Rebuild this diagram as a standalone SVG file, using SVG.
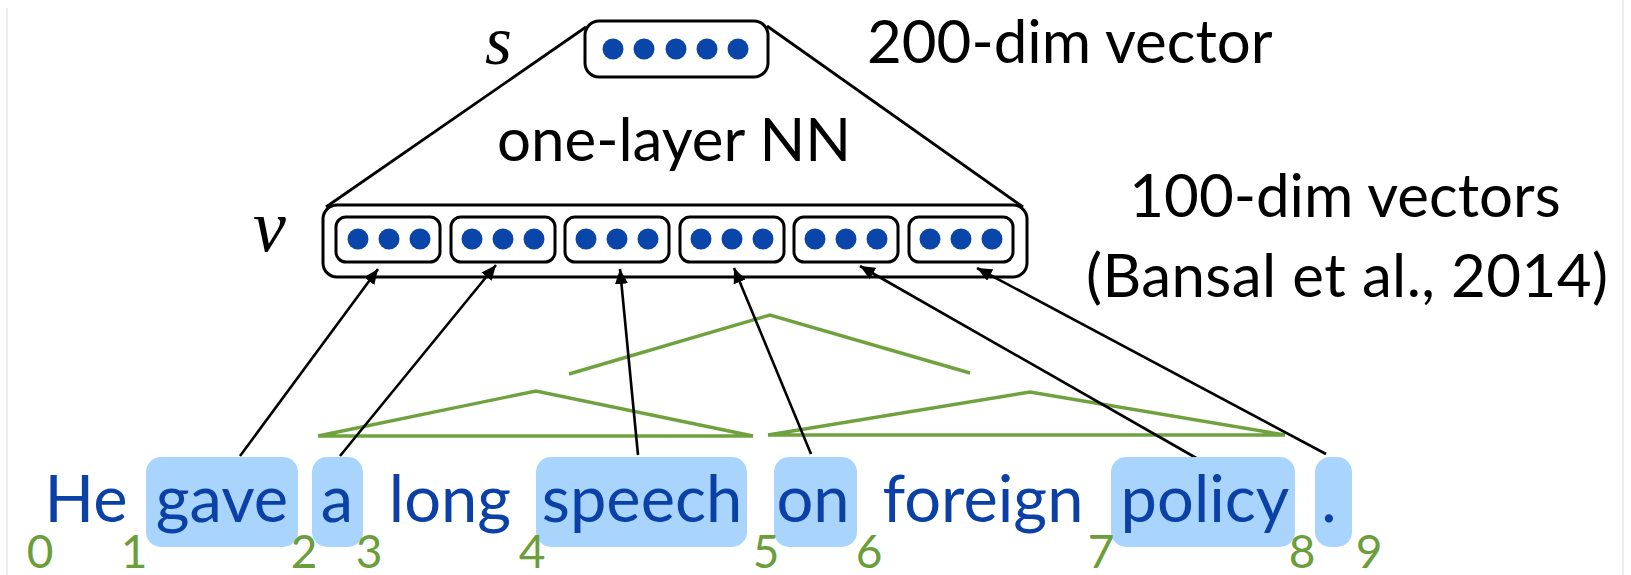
<svg xmlns="http://www.w3.org/2000/svg" width="1631" height="575" viewBox="0 0 1631 575">
<style>
.box{fill:#fff;stroke:#000;stroke-width:3}
.dot{fill:#0a46aa}
.lbl{font-family:Lato,"Liberation Sans",sans-serif;fill:#000;font-size:60px}
.math{font-family:"Liberation Serif",serif;font-style:italic;fill:#000}
.hl{fill:#a9d5fd}
.word{font-family:Lato,"Liberation Sans",sans-serif;font-size:65px;fill:#0b41a6;text-anchor:middle}
.num{font-family:Lato,"Liberation Sans",sans-serif;font-size:46px;fill:#6b9e3a;text-anchor:middle}
.tri{fill:none;stroke:#000;stroke-width:2.8}
.tree{fill:none;stroke:#6fa23f;stroke-width:3.4;stroke-linejoin:miter}
.arr{stroke:#000;stroke-width:2.6;marker-end:url(#ah)}
</style>
<defs>
<marker id="ah" markerUnits="userSpaceOnUse" markerWidth="17" markerHeight="13" refX="15" refY="6.5" orient="auto">
<path d="M0,0 L15,6.5 L0,13 Z" fill="#000"/>
</marker>
<g id="dots3"><circle class="dot" cx="-31" cy="0" r="10.5"/><circle class="dot" cx="0" cy="0" r="10.5"/><circle class="dot" cx="31" cy="0" r="10.5"/></g>
</defs>
<rect width="1631" height="575" fill="#fff"/>
<line x1="7" y1="8" x2="7" y2="575" stroke="#e6e6e6" stroke-width="1.5"/>
<line x1="1623" y1="0" x2="1623" y2="575" stroke="#e6e6e6" stroke-width="1.5"/>

<g id="triangle">
<line class="tri" x1="586" y1="27" x2="326" y2="207"/>
<line class="tri" x1="767" y1="26" x2="1023" y2="207"/>
</g>

<g id="s-node">
<text class="math" x="485" y="64" font-size="69">s</text>
<rect class="box" x="585" y="21" width="183" height="56" rx="14"/>
<circle class="dot" cx="613" cy="49" r="10.5"/>
<circle class="dot" cx="644" cy="49" r="10.5"/>
<circle class="dot" cx="676" cy="49" r="10.5"/>
<circle class="dot" cx="707" cy="49" r="10.5"/>
<circle class="dot" cx="738" cy="49" r="10.5"/>
</g>

<g id="labels">
<text class="lbl" x="867" y="63">200-dim vector</text>
<text class="lbl" x="674" y="161" text-anchor="middle">one-layer NN</text>
<text class="lbl" x="1345" y="217" text-anchor="middle">100-dim vectors</text>
<text class="lbl" x="1086" y="297" textLength="522">(Bansal et al., 2014)</text>
</g>

<g id="v-node">
<text class="math" x="253" y="251" font-size="74">v</text>
<rect class="box" x="323" y="205" width="704" height="72" rx="14"/>
<rect class="box" x="336" y="217" width="104" height="45" rx="10"/>
<rect class="box" x="451" y="217" width="104" height="45" rx="10"/>
<rect class="box" x="565" y="217" width="104" height="45" rx="10"/>
<rect class="box" x="680" y="217" width="104" height="45" rx="10"/>
<rect class="box" x="794" y="217" width="104" height="45" rx="10"/>
<rect class="box" x="909" y="217" width="104" height="45" rx="10"/>
<use href="#dots3" x="389" y="239"/>
<use href="#dots3" x="503" y="239"/>
<use href="#dots3" x="617" y="239"/>
<use href="#dots3" x="732" y="239"/>
<use href="#dots3" x="846" y="239"/>
<use href="#dots3" x="961" y="239"/>
</g>

<g id="tree">
<polyline class="tree" points="318,436 536,391 753,436 318,436"/>
<polyline class="tree" points="768,435 1030,392 1285,435 768,435"/>
<polyline class="tree" points="569,374 770,315 970,373"/>
</g>

<g id="connectors">
<line class="arr" x1="240" y1="456" x2="378" y2="269"/>
<line class="arr" x1="340" y1="456" x2="496" y2="265"/>
<line class="arr" x1="638" y1="455" x2="620" y2="269"/>
<line class="arr" x1="811" y1="454" x2="734" y2="268"/>
<line class="arr" x1="1198" y1="459" x2="860" y2="266"/>
<line class="arr" x1="1326" y1="454" x2="977" y2="268"/>
</g>

<g id="sentence">
<rect class="hl" x="146" y="457" width="152" height="90" rx="15"/>
<rect class="hl" x="312" y="457" width="51" height="90" rx="15"/>
<rect class="hl" x="536" y="457" width="211" height="90" rx="15"/>
<rect class="hl" x="774" y="457" width="83" height="90" rx="15"/>
<rect class="hl" x="1111" y="457" width="184" height="90" rx="15"/>
<rect class="hl" x="1315" y="457" width="37" height="90" rx="15"/>
<text class="word" x="86" y="522">He</text>
<text class="word" x="222" y="522">gave</text>
<text class="word" x="337" y="522">a</text>
<text class="word" x="450" y="522">long</text>
<text class="word" x="642" y="522">speech</text>
<text class="word" x="813" y="522">on</text>
<text class="word" x="983" y="522">foreign</text>
<text class="word" x="1205" y="522">policy</text>
<text class="word" x="1329" y="522">.</text>
</g>

<g id="indices">
<text class="num" x="40" y="568">0</text>
<text class="num" x="134" y="568">1</text>
<text class="num" x="304" y="568">2</text>
<text class="num" x="369" y="568">3</text>
<text class="num" x="532" y="568">4</text>
<text class="num" x="766" y="568">5</text>
<text class="num" x="869" y="568">6</text>
<text class="num" x="1101" y="568">7</text>
<text class="num" x="1302" y="568">8</text>
<text class="num" x="1369" y="568">9</text>
</g>
</svg>
